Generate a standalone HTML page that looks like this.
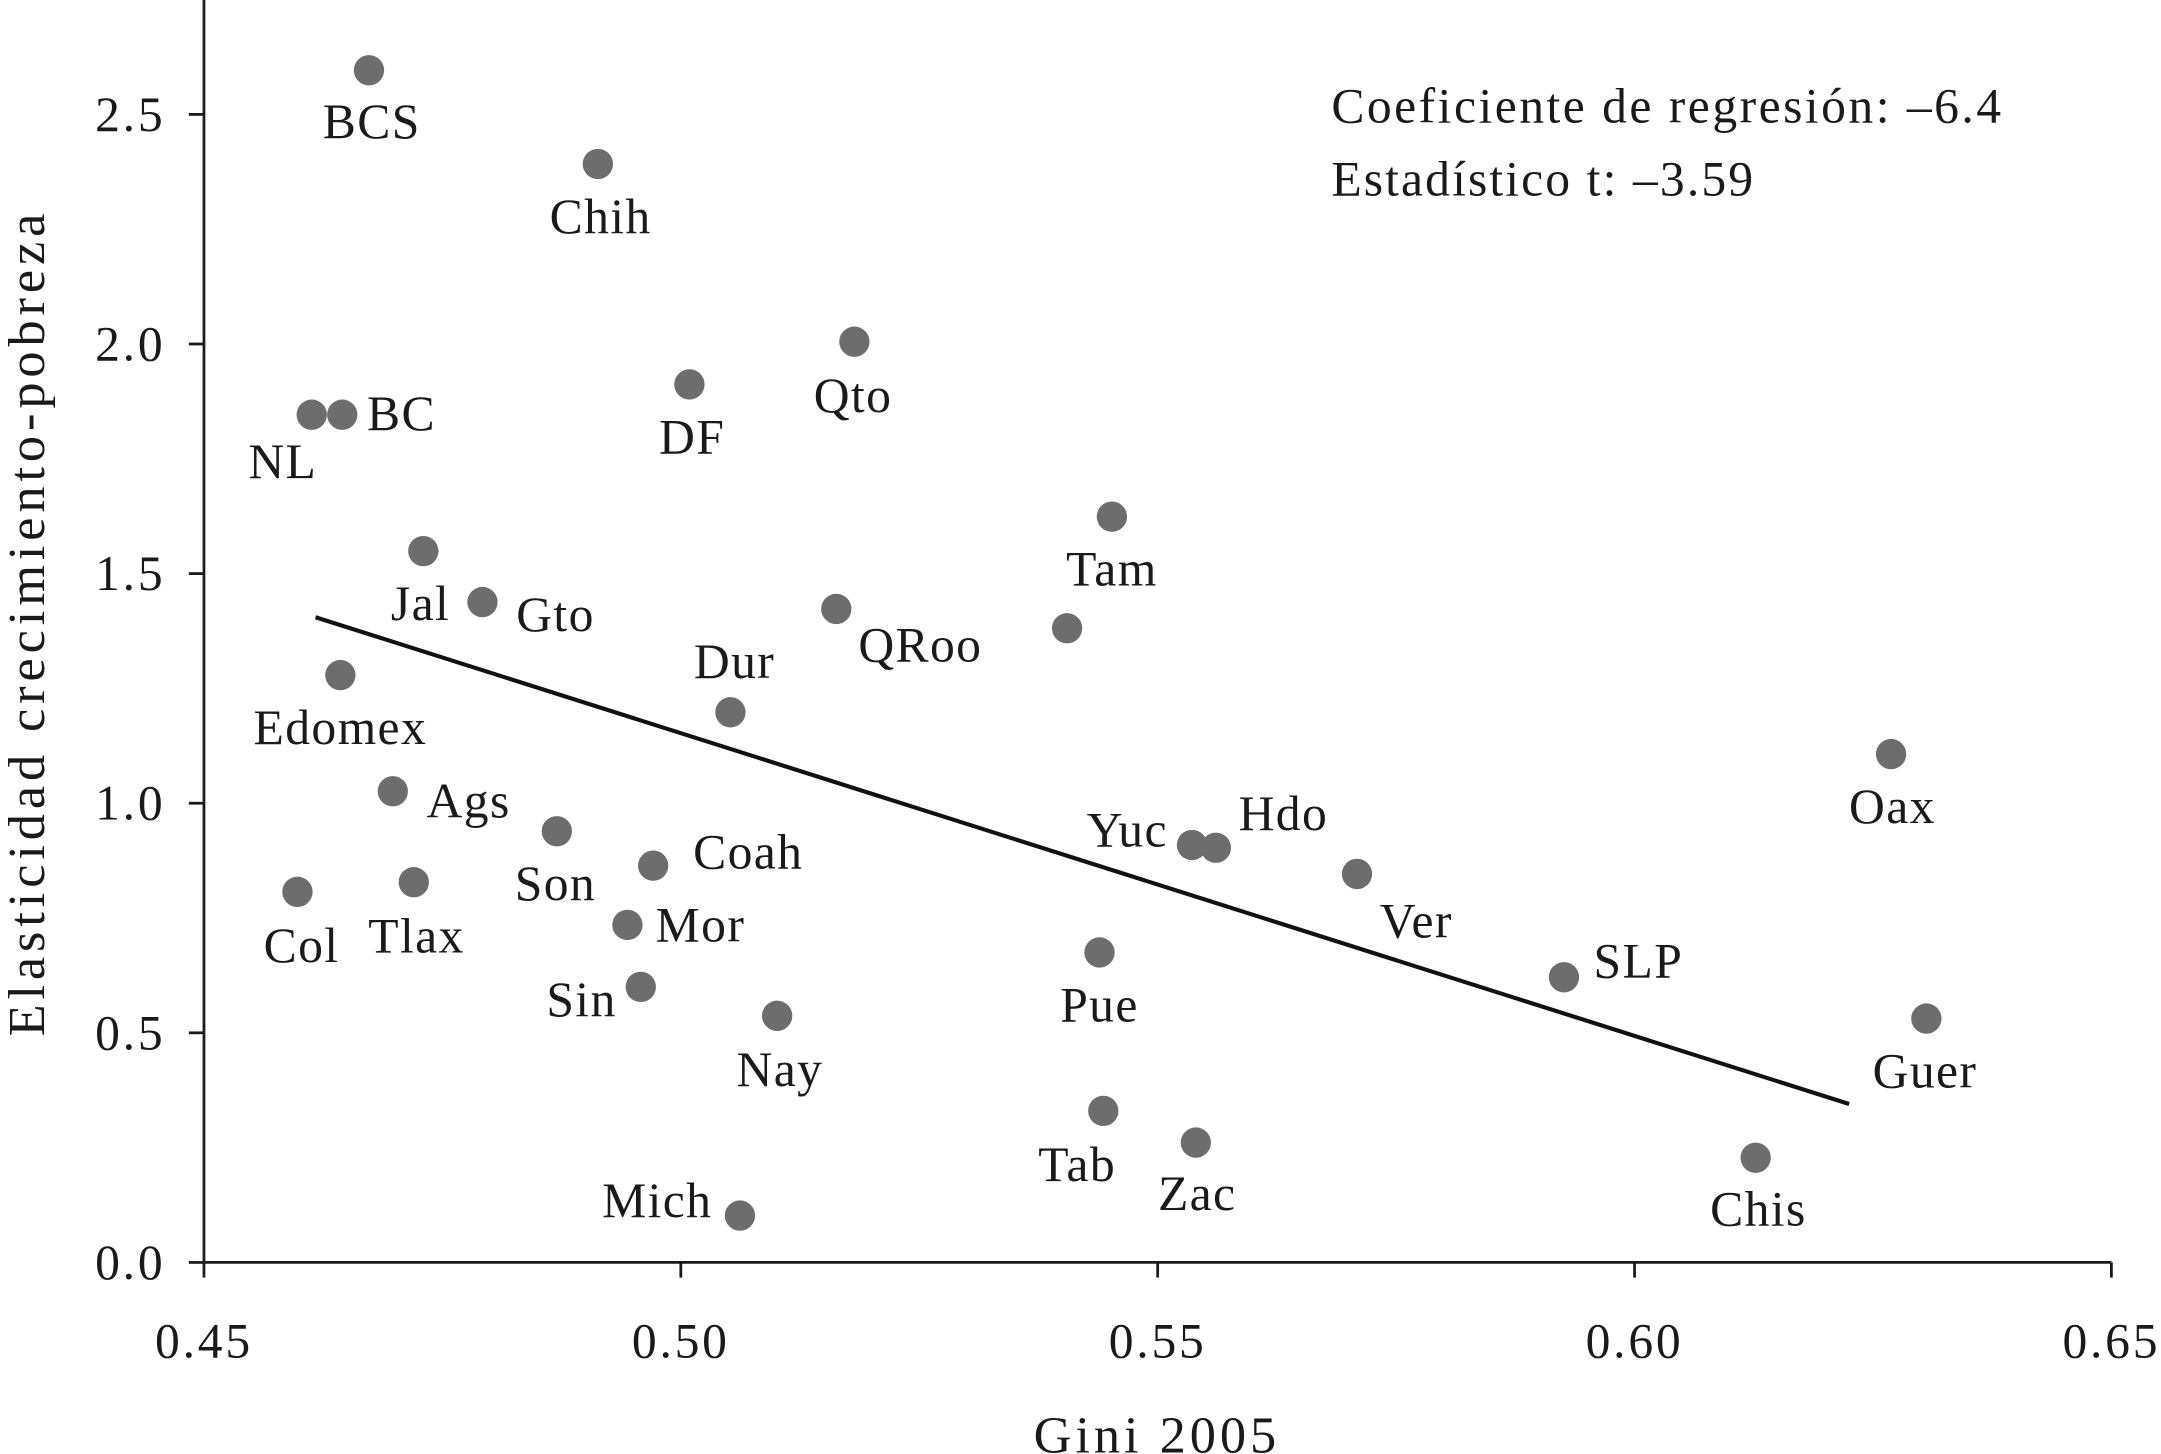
<!DOCTYPE html>
<html><head><meta charset="utf-8"><style>
html,body{margin:0;padding:0;background:#fff;}
svg{display:block;}
text{font-family:"Liberation Serif",serif;fill:#1a1a1a;}
</style></head><body>
<svg id="chart" width="2161" height="1454" viewBox="0 0 1568 1055" preserveAspectRatio="none" xmlns="http://www.w3.org/2000/svg">
<g id="axes"></g><g id="marks"></g>
<text x="966" y="89" font-size="36" textLength="486" lengthAdjust="spacing">Coeficiente de regresión: –6.4</text>
<text x="966" y="142" font-size="36" textLength="306" lengthAdjust="spacing">Estadístico t: –3.59</text>
<text x="750" y="1054" font-size="38" textLength="176" lengthAdjust="spacing">Gini 2005</text>
<text transform="translate(32,752) rotate(-90)" font-size="38" textLength="597" lengthAdjust="spacing">Elasticidad crecimiento-pobreza</text>
</svg>
<script>
const states=["BCS","Chih","Qto","DF","NL","BC","Tam","Jal","Gto","QRoo","","Edomex","Dur","Oax","Ags","Son","Yuc","Hdo","Coah","Ver","Col","Tlax","Mor","Pue","SLP","Sin","Guer","Nay","Tab","Zac","Chis","Mich"];
const gini=[0.4673,0.4913,0.5182,0.5009,0.4613,0.4645,0.5452,0.4730,0.4792,0.5163,0.5405,0.4643,0.5052,0.6269,0.4698,0.4870,0.5536,0.5561,0.4971,0.5709,0.4598,0.4720,0.4944,0.5439,0.5926,0.4958,0.6306,0.5101,0.5443,0.5540,0.6127,0.5062];
const elasticity=[2.596,2.392,2.005,1.912,1.846,1.846,1.624,1.549,1.438,1.423,1.381,1.279,1.198,1.107,1.026,0.939,0.909,0.903,0.864,0.846,0.807,0.828,0.735,0.675,0.621,0.600,0.531,0.537,0.330,0.261,0.228,0.102];
const labelDx=[2,2,-1,2,-21,43,0,-2,53,61,0,0,3,1,55,-1,-47,49,69,43,3,2,53,0,54,-43,-1,2,-19,1,2,-60];
const labelDy=[37,38,39,38,34,-1,38,38,9,26,0,38,-37,38,7,38,-11,-25,-10,34,39,39,0,38,-12,9,38,39,39,37,37,-11];
const xTicks=[0.45,0.50,0.55,0.60,0.65];
const xTickLabels=["0.45","0.50","0.55","0.60","0.65"];
const yTicks=[0,0.5,1,1.5,2,2.5];
const yTickLabels=["0.0","0.5","1.0","1.5","2.0","2.5"];
const regX=[0.4617,0.6225];
const regY=[1.405,0.345];
const NS="http://www.w3.org/2000/svg";
const X=v=>148+(v-0.45)/0.2*1384;
const Y=v=>916-v*333.2;
function mk(t,a,p){const e=document.createElementNS(NS,t);for(const k in a)e.setAttribute(k,a[k]);p.appendChild(e);return e;}
const ax=document.getElementById('axes'),mg=document.getElementById('marks');
let l=mk('line',{x1:148,y1:0,x2:148,y2:916,stroke:'#1a1a1a','stroke-width':2},ax);


l=mk('line',{x1:148,y1:916,x2:X(0.65),y2:916,stroke:'#1a1a1a','stroke-width':2},ax);


xTicks.forEach((v,i)=>{
 const t=mk('line',{x1:X(v),y1:916,x2:X(v),y2:927,stroke:'#1a1a1a','stroke-width':2},ax);
 
 
 const tx=mk('text',{x:X(v),y:985,'font-size':36,'letter-spacing':2,'text-anchor':'middle'},ax);tx.textContent=xTickLabels[i];
 
 
});
yTicks.forEach((v,i)=>{
 const t=mk('line',{x1:137,y1:Y(v),x2:148,y2:Y(v),stroke:'#1a1a1a','stroke-width':2},ax);
 
 
 const tx=mk('text',{x:120,y:Y(v)+12,'font-size':36,'letter-spacing':2,'text-anchor':'end'},ax);tx.textContent=yTickLabels[i];
 
 
});
const rl=mk('line',{x1:X(regX[0]),y1:Y(regY[0]),x2:X(regX[1]),y2:Y(regY[1]),stroke:'#111','stroke-width':3},mg);


gini.forEach((g,i)=>{
 const cx=X(g),cy=Y(elasticity[i]);
 const c=mk('circle',{cx:cx,cy:cy,r:11,fill:'#6d6d6d'},mg);
 
 
 if(states[i]){
  const t=mk('text',{x:cx+labelDx[i],y:cy+labelDy[i]+12,'font-size':36,'letter-spacing':1,'text-anchor':'middle'},mg);
  t.textContent=states[i];
  
  
 }
});
</script>
</body></html>
